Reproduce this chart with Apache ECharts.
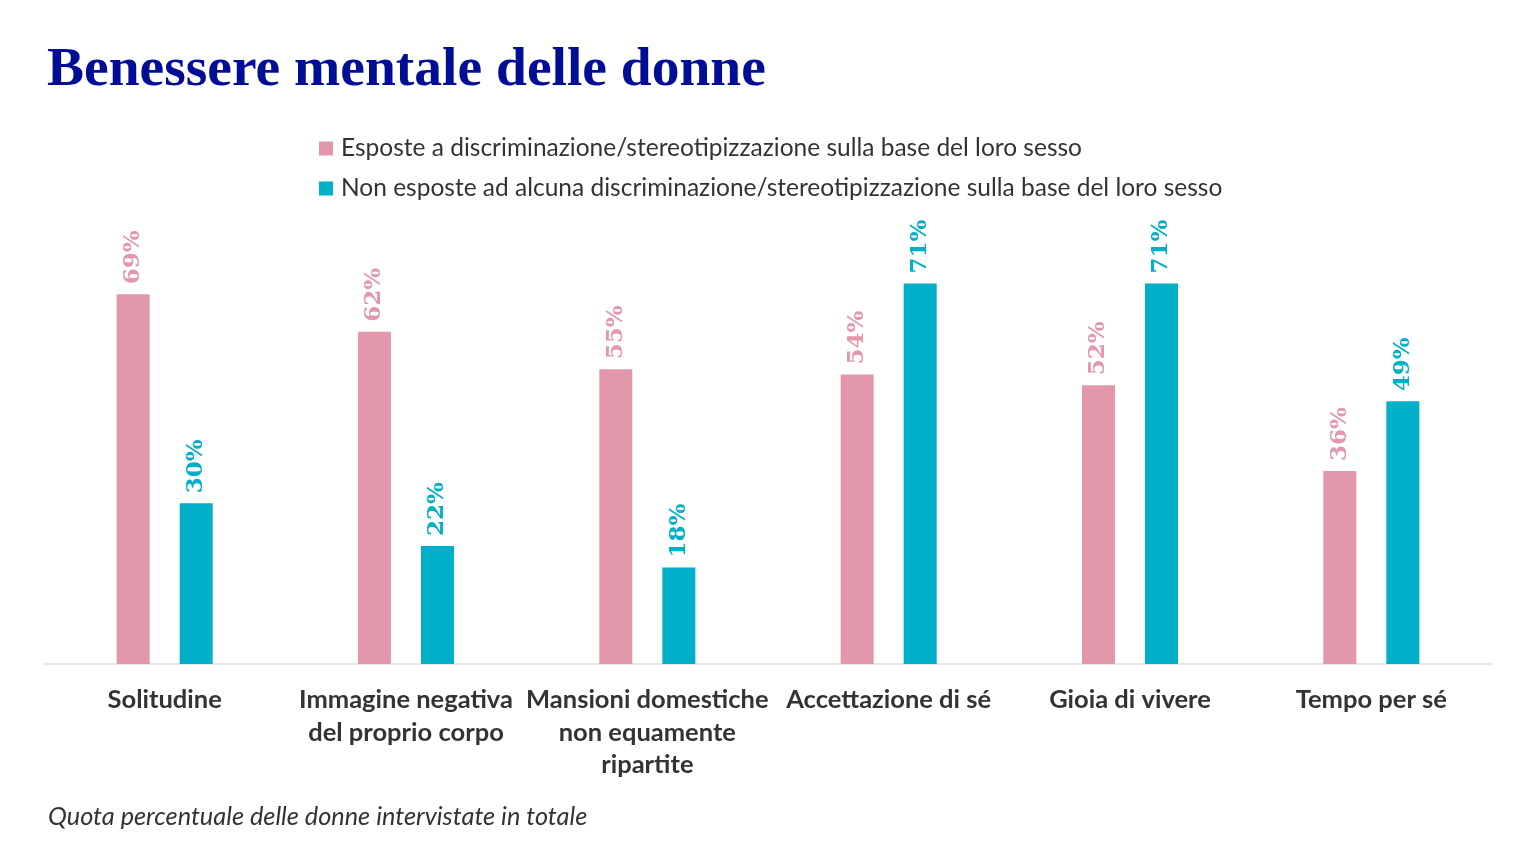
<!DOCTYPE html>
<html>
<head>
<meta charset="utf-8">
<script src="https://cdn.jsdelivr.net/npm/echarts@6/dist/echarts.min.js"></script>
<style>
  html, body { margin: 0; padding: 0; background: #fff; }
  #chart { width: 1536px; height: 864px; }
</style>
</head>
<body>
<div id="chart"></div>
<script>
var categories = [
	'Solitudine',
	'Immagine negativa\ndel proprio corpo',
	'Mansioni domestiche\nnon equamente\nripartite',
	'Accettazione di sé',
	'Gioia di vivere',
	'Tempo per sé'
];
var seriesNames = [
	'Esposte a discriminazione/stereotipizzazione sulla base del loro sesso',
	'Non esposte ad alcuna discriminazione/stereotipizzazione sulla base del loro sesso'
];
var exposed = [69, 62, 55, 54, 52, 36];
var notExposed = [30, 22, 18, 71, 71, 49];

var pink = '#e397ab';
var teal = '#00afc8';
var sansFont = 'Lato, "Source Sans Pro", sans-serif';
var serifFont = '"DejaVu Serif", serif';

function makeSeries(name, data, color) {
	return {
		name: name,
		type: 'bar',
		data: data,
		barWidth: 33,
		barGap: '91%',
		itemStyle: { color: color },
		label: {
			show: true,
			position: 'top',
			rotate: 90,
			align: 'left',
			verticalAlign: 'middle',
			distance: 9,
			offset: [1, 0],
			formatter: '{c}%',
			color: color,
			fontFamily: serifFont,
			fontWeight: 'bold',
			fontSize: 23
		}
	};
}

var chart = echarts.init(document.getElementById('chart'));
chart.setOption({
	animation: false,
	backgroundColor: '#fff',
	title: {
		text: 'Benessere mentale delle donne',
		left: 42,
		top: 38,
		textStyle: {
			color: '#000e96',
			fontFamily: '"Liberation Serif", serif',
			fontWeight: 'bold',
			fontSize: 55.5
		}
	},
	legend: {
		orient: 'vertical',
		left: 314,
		top: 131,
		itemWidth: 14,
		itemHeight: 14,
		itemGap: 15,
		icon: 'rect',
		selectedMode: false,
		data: seriesNames,
		textStyle: {
			color: '#333',
			fontFamily: sansFont,
			fontSize: 24.5,
			padding: [0, 0, 0, 3]
		}
	},
	grid: {
		left: 44,
		right: 44,
		top: 128,
		bottom: 200
	},
	xAxis: {
		type: 'category',
		data: categories,
		axisLine: { lineStyle: { color: '#e6e6e6', width: 2 } },
		axisTick: { show: false },
		axisLabel: {
			interval: 0,
			margin: 20,
			color: '#333',
			fontFamily: sansFont,
			fontWeight: 'bold',
			fontSize: 25.5,
			lineHeight: 32.5
		}
	},
	yAxis: {
		type: 'value',
		min: 0,
		max: 100,
		show: false,
		splitLine: { show: false }
	},
	graphic: [{
		type: 'text',
		left: 48,
		top: 804,
		style: {
			text: 'Quota percentuale delle donne intervistate in totale',
			fill: '#333',
			fontFamily: sansFont,
			fontStyle: 'italic',
			fontSize: 25.3
		}
	}],
	series: [
		makeSeries(seriesNames[0], exposed, pink),
		makeSeries(seriesNames[1], notExposed, teal)
	]
});
</script>
</body>
</html>
